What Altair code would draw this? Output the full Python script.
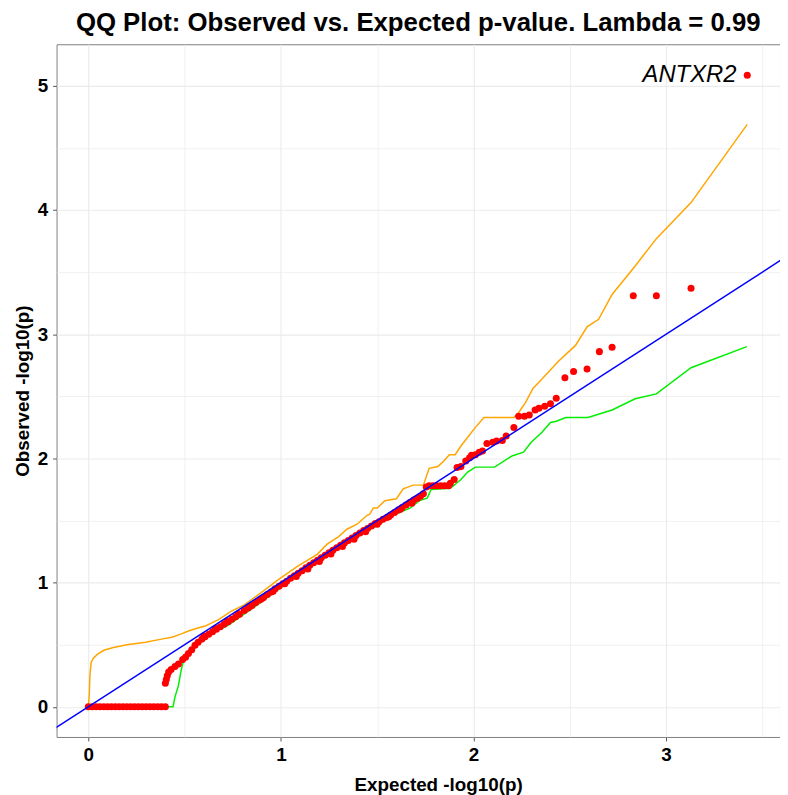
import altair as alt
import pandas as pd

# ---- data ----
# observed points (expected, observed)
obs_x = [0.00, 0.02, 0.04, 0.06, 0.08, 0.10, 0.12, 0.14, 0.16, 0.18, 0.20, 0.22, 0.24, 0.26,
         0.28, 0.30, 0.32, 0.34, 0.36, 0.38, 0.40,
         0.40, 0.405, 0.41, 0.417, 0.43, 0.45, 0.468, 0.49, 0.505, 0.52, 0.537, 0.554, 0.57,
         0.59, 0.606, 0.625, 0.645, 0.665, 0.685, 0.705, 0.726, 0.745, 0.765, 0.785, 0.81,
         0.83, 0.85, 0.87, 0.89, 0.91, 0.93, 0.95, 0.97, 0.99, 1.01, 1.03, 1.05, 1.07, 1.09,
         1.11, 1.13, 1.15, 1.17, 1.19, 1.21, 1.23, 1.25, 1.27, 1.29, 1.31, 1.33, 1.35, 1.37,
         1.39, 1.41, 1.43, 1.45, 1.47, 1.49, 1.51, 1.53, 1.55, 1.57, 1.59, 1.61, 1.63, 1.65,
         1.67, 1.69, 1.71, 1.725, 1.74, 1.755, 1.77, 1.79, 1.81, 1.83, 1.85, 1.87, 1.88, 1.90,
         1.915, 1.935, 1.96, 1.98, 1.99, 2.01, 2.03, 2.047, 2.07, 2.10, 2.12, 2.15, 2.17, 2.21,
         2.235, 2.265, 2.29, 2.32, 2.34, 2.37, 2.40, 2.43, 2.475, 2.52, 2.59, 2.654, 2.72,
         2.83, 2.95, 3.13, 3.422,
         0.60, 0.66, 0.72, 0.78, 0.84, 0.90, 0.96, 1.02, 1.08, 1.14, 1.20, 1.26, 1.32, 1.38,
         1.44, 1.50, 1.56, 1.62, 1.68]
obs_y = [0.00, 0.00, 0.00, 0.00, 0.00, 0.00, 0.00, 0.00, 0.00, 0.00, 0.00, 0.00, 0.00, 0.00,
         0.00, 0.00, 0.00, 0.00, 0.00, 0.00, 0.00,
         0.19, 0.22, 0.25, 0.28, 0.30, 0.325, 0.345, 0.38, 0.40, 0.43, 0.46, 0.495, 0.52,
         0.545, 0.565, 0.585, 0.605, 0.625, 0.645, 0.665, 0.685, 0.705, 0.725, 0.745, 0.775,
         0.795, 0.815, 0.84, 0.86, 0.88, 0.905, 0.925, 0.95, 0.97, 0.99, 1.01, 1.035, 1.055, 1.075,
         1.095, 1.12, 1.14, 1.16, 1.18, 1.20, 1.22, 1.24, 1.26, 1.28, 1.30, 1.32, 1.34, 1.36,
         1.38, 1.40, 1.42, 1.435, 1.455, 1.475, 1.49, 1.51, 1.525, 1.545, 1.565, 1.585, 1.605, 1.625,
         1.645, 1.665, 1.68, 1.695, 1.715, 1.77, 1.78, 1.78, 1.78, 1.78, 1.78, 1.78, 1.80, 1.83,
         1.926, 1.934, 1.98, 2.005, 2.025, 2.03, 2.05, 2.06, 2.12, 2.13, 2.14, 2.145, 2.18, 2.25,
         2.34, 2.34, 2.35, 2.39, 2.405, 2.42, 2.44, 2.485, 2.65, 2.70, 2.72, 2.86, 2.895,
         3.31, 3.31, 3.37, 5.085,
         0.57, 0.63, 0.69, 0.75, 0.81, 0.87, 0.93, 0.99, 1.05, 1.11, 1.17, 1.23, 1.29, 1.35,
         1.41, 1.47, 1.53, 1.59, 1.64]

# upper confidence bound
upper_x = [0.0, 0.005, 0.008, 0.015, 0.025, 0.045, 0.08, 0.125, 0.20, 0.297, 0.38, 0.434, 0.48,
           0.52, 0.56, 0.606, 0.674, 0.743, 0.81, 0.915, 0.983, 1.086, 1.19, 1.24, 1.30, 1.343,
           1.395, 1.41, 1.446, 1.46, 1.48, 1.50, 1.54, 1.60, 1.635, 1.686, 1.74, 1.77, 1.815,
           1.84, 1.875, 1.905, 1.935, 1.96, 2.01, 2.055, 2.21, 2.235, 2.27, 2.31, 2.35, 2.44,
           2.53, 2.59, 2.65, 2.72, 2.84, 2.95, 3.13, 3.422]
upper_y = [0.0, 0.10, 0.25, 0.36, 0.39, 0.42, 0.455, 0.475, 0.50, 0.52, 0.545, 0.56, 0.585,
           0.61, 0.63, 0.65, 0.70, 0.77, 0.82, 0.94, 1.02, 1.13, 1.23, 1.31, 1.37, 1.43,
           1.47, 1.49, 1.54, 1.55, 1.60, 1.60, 1.66, 1.675, 1.755, 1.785, 1.785, 1.92, 1.935,
           1.97, 2.03, 2.03, 2.10, 2.15, 2.25, 2.33, 2.33, 2.37, 2.45, 2.565, 2.63, 2.78,
           2.91, 3.06, 3.12, 3.32, 3.55, 3.77, 4.06, 4.69]

# lower confidence bound
lower_x = [0.0, 0.44, 0.45, 0.468, 0.48, 0.494, 0.515, 0.537, 0.58, 0.64, 0.726, 0.85, 0.983,
           1.05, 1.31, 1.41, 1.50, 1.58, 1.67, 1.72, 1.76, 1.78, 1.88, 1.935, 1.97, 2.01, 2.11,
           2.20, 2.26, 2.30, 2.356, 2.40, 2.43, 2.48, 2.595, 2.72, 2.84, 2.95, 3.13, 3.42]
lower_y = [0.0, 0.0, 0.08, 0.17, 0.28, 0.37, 0.41, 0.45, 0.52, 0.59, 0.655, 0.79, 0.94,
           1.02, 1.29, 1.38, 1.46, 1.54, 1.60, 1.66, 1.68, 1.75, 1.76, 1.83, 1.89, 1.93, 1.93,
           2.02, 2.05, 2.13, 2.21, 2.29, 2.30, 2.33, 2.33, 2.39, 2.48, 2.52, 2.73, 2.90]

# identity reference line endpoints (y = x)
diag = [-0.5, 4.0]

label_gene = ["ANTXR2"]
label_x = [3.422]
label_y = [5.085]

x_ticks = [0, 0.5, 1, 1.5, 2, 2.5, 3, 3.5]
y_ticks = [0, 0.5, 1, 1.5, 2, 2.5, 3, 3.5, 4, 4.5, 5]

x_domain = [-0.165, 3.592]
y_domain = [-0.243, 5.335]

FONT = "Liberation Sans"

obs_df = pd.DataFrame({"x": obs_x, "y": obs_y})
upper_df = pd.DataFrame({"x": upper_x, "y": upper_y})
lower_df = pd.DataFrame({"x": lower_x, "y": lower_y})
diag_df = pd.DataFrame({"x": diag, "y": diag})
lab_df = pd.DataFrame({"x": label_x, "y": label_y, "gene": label_gene})

minor_test = "datum.value % 1 !== 0"
label_expr = "datum.value % 1 === 0 ? format(datum.value, 'd') : ''"

xaxis = alt.Axis(
    title="Expected -log10(p)", values=x_ticks, labelExpr=label_expr,
    grid=True, gridColor="#ebebeb",
    gridWidth={"condition": {"test": minor_test, "value": 0.7}, "value": 1.2},
    tickOpacity={"condition": {"test": minor_test, "value": 0}, "value": 1},
    tickSize=4, tickColor="#555555", domain=False,
    labelFont=FONT, labelFontSize=19, labelFontWeight="bold", labelColor="black",
    labelPadding=5, titleFont=FONT, titleFontSize=19, titleFontWeight="bold",
    titleColor="black", titlePadding=11, titleX=385,
)
yaxis = alt.Axis(
    title="Observed -log10(p)", values=y_ticks, labelExpr=label_expr,
    grid=True, gridColor="#ebebeb",
    gridWidth={"condition": {"test": minor_test, "value": 0.7}, "value": 1.2},
    tickOpacity={"condition": {"test": minor_test, "value": 0}, "value": 1},
    tickSize=4, tickColor="#555555", domain=False,
    labelFont=FONT, labelFontSize=19, labelFontWeight="bold", labelColor="black",
    labelPadding=5, titleFont=FONT, titleFontSize=19, titleFontWeight="bold",
    titleColor="black", titlePadding=5,
)

xs = alt.Scale(domain=x_domain, nice=False, zero=False)
ys = alt.Scale(domain=y_domain, nice=False, zero=False)

upper = alt.Chart(upper_df).mark_line(color="#FFA500", strokeWidth=1.5, clip=True).encode(
    x=alt.X("x:Q", scale=xs, axis=xaxis), y=alt.Y("y:Q", scale=ys, axis=yaxis), order="x:Q")
lower = alt.Chart(lower_df).mark_line(color="#00EE00", strokeWidth=1.5, clip=True).encode(
    x="x:Q", y="y:Q", order="x:Q")
points = alt.Chart(obs_df).mark_circle(color="#FF0000", size=50, opacity=1, clip=True).encode(
    x="x:Q", y="y:Q")
diag_line = alt.Chart(diag_df).mark_line(color="#0000FF", strokeWidth=1.5, clip=True).encode(
    x="x:Q", y="y:Q")
text = alt.Chart(lab_df).mark_text(
    font=FONT, fontSize=24, fontStyle="italic", color="black", align="right",
    baseline="middle", dx=-11).encode(x="x:Q", y="y:Q", text="gene:N")

chart = alt.layer(upper, lower, points, diag_line, text).properties(
    width=730, height=699,
    title=alt.TitleParams(
        "QQ Plot: Observed vs. Expected p-value. Lambda = 0.99",
        font=FONT, fontSize=26, fontWeight="bold", color="black",
        anchor="middle", offset=8),
    autosize=alt.AutoSizeParams(type="none"),
    padding={"left": 49, "top": 33, "right": 0, "bottom": 60},
).configure_view(stroke="#808080", strokeWidth=1)

chart.save("out.html", embed_options={"renderer": "svg", "actions": False})
